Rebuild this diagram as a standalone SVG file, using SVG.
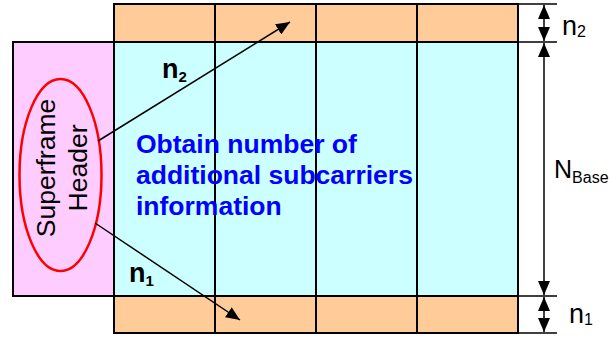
<svg xmlns="http://www.w3.org/2000/svg" width="611" height="337" viewBox="0 0 611 337">
<style>
.cell{stroke:#000;stroke-width:2}
.or{fill:#FFCC99}
.cy{fill:#CCFFFF}
.ln{stroke:#000;stroke-width:2;fill:none}
.conn{stroke:#000;stroke-width:1.5;fill:none}
.dim{stroke:#000;stroke-width:1.5;fill:none}
.t{font-family:"Liberation Sans",Arial,sans-serif;fill:#000}
.b{font-weight:bold}
.blue{font-family:"Liberation Sans",Arial,sans-serif;font-weight:bold;font-size:26.5px;fill:#0000FF}
</style>
<defs>
<marker id="ah" viewBox="0 0 14 12" refX="14" refY="6" markerWidth="14" markerHeight="12" markerUnits="userSpaceOnUse" orient="auto">
<path d="M0,0 L14,6 L0,12 Z" fill="#000"/>
</marker>
<marker id="dh" viewBox="0 0 14 12" refX="14" refY="6" markerWidth="14" markerHeight="12" markerUnits="userSpaceOnUse" orient="auto-start-reverse">
<path d="M0,0 L14,6 L0,12 Z" fill="#000"/>
</marker>
</defs>

<g id="header">
<rect x="13" y="42" width="101" height="254" fill="#FFCCFF" stroke="#000" stroke-width="2"/>
<ellipse cx="60.5" cy="175" rx="41" ry="96" fill="none" stroke="#FF0000" stroke-width="2.5"/>
<text class="t" font-size="26.5" text-anchor="middle" transform="translate(55,168) rotate(-90)">Superframe</text>
<text class="t" font-size="26.5" text-anchor="middle" transform="translate(87,168) rotate(-90)">Header</text>
</g>

<g id="grid">
<rect class="cell cy" x="114" y="42" width="404" height="254"/>
<rect class="cell or" x="114" y="4" width="101" height="38"/>
<rect class="cell or" x="215" y="4" width="101" height="38"/>
<rect class="cell or" x="316" y="4" width="101" height="38"/>
<rect class="cell or" x="417" y="4" width="101" height="38"/>
<rect class="cell or" x="114" y="296" width="101" height="37"/>
<rect class="cell or" x="215" y="296" width="101" height="37"/>
<rect class="cell or" x="316" y="296" width="101" height="37"/>
<rect class="cell or" x="417" y="296" width="101" height="37"/>
<line class="ln" x1="215" y1="42" x2="215" y2="296"/>
<line class="ln" x1="316" y1="42" x2="316" y2="296"/>
<line class="ln" x1="417" y1="42" x2="417" y2="296"/>
</g>

<g id="info">
<text class="blue" x="136" y="153">Obtain number of</text>
<text class="blue" x="136" y="184">additional subcarriers</text>
<text class="blue" x="136" y="215">information</text>
</g>

<g id="connectors">
<line class="conn" x1="98" y1="141" x2="290" y2="22" marker-end="url(#ah)"/>
<line class="conn" x1="95" y1="223" x2="240" y2="320" marker-end="url(#ah)"/>
<text class="t b" x="162" y="78" font-size="27">n<tspan font-size="15" dy="4">2</tspan></text>
<text class="t b" x="129" y="282" font-size="27">n<tspan font-size="15" dy="4">1</tspan></text>
</g>

<g id="dimensions">
<line class="dim" x1="518" y1="4" x2="557" y2="4"/>
<line class="dim" x1="518" y1="42" x2="557" y2="42"/>
<line class="dim" x1="518" y1="296" x2="557" y2="296"/>
<line class="dim" x1="518" y1="333" x2="557" y2="333"/>
<line class="dim" x1="544" y1="5" x2="544" y2="41" marker-start="url(#dh)" marker-end="url(#dh)"/>
<line class="dim" x1="544" y1="43" x2="544" y2="295" marker-start="url(#dh)" marker-end="url(#dh)"/>
<line class="dim" x1="544" y1="297" x2="544" y2="332" marker-start="url(#dh)" marker-end="url(#dh)"/>
<text class="t" x="562" y="35" font-size="27">n<tspan font-size="16" dy="2">2</tspan></text>
<text class="t" x="554" y="178" font-size="25">N<tspan font-size="16" dy="5">Base</tspan></text>
<text class="t" x="569" y="323" font-size="27">n<tspan font-size="16" dy="2">1</tspan></text>
</g>
</svg>
